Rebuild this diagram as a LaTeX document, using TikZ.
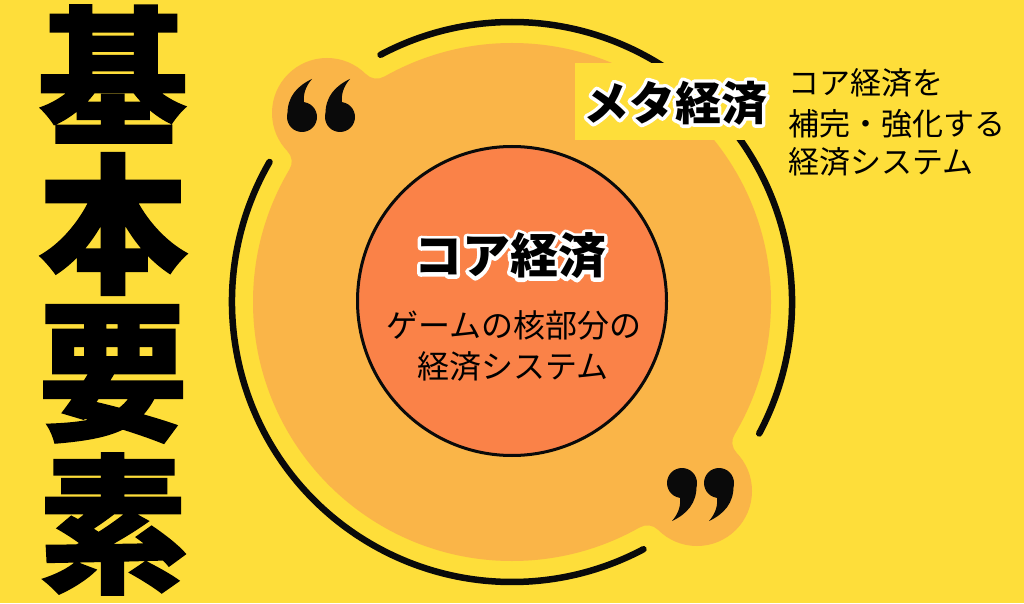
\documentclass[tikz,border=0pt]{standalone}
\usepackage{fontspec}
\newfontfamily\jp{Noto Sans CJK JP}
\newfontfamily\jpheavy[FakeBold=1]{Noto Sans CJK JP}
\definecolor{bgyellow}{RGB}{254,222,58}
\definecolor{discorange}{RGB}{250,181,72}
\definecolor{coral}{RGB}{250,130,72}
\definecolor{inkblack}{RGB}{10,10,10}
% white outlined text: a stroked white copy behind the black text
\newcommand\halo[2][7]{{\setbox0=\hbox{#2}%
  \rlap{\color{white}\special{pdf:code q 1 1 1 RG #1 w 1 j 2 Tr}\copy0\special{pdf:code Q}}%
  \box0}}
\tikzset{
  ringline/.style={draw=inkblack, line width=6.5pt, line cap=round},
  bigchar/.style={font=\jpheavy\bfseries\fontsize{150}{150}\selectfont, inner sep=0, text=black},
  titletext/.style={font=\jp\bfseries\fontsize{48}{48}\selectfont, inner sep=0, text=black},
  bodytext/.style={font=\jp\fontsize{32}{32}\selectfont, inner sep=0, text=black},
  sidetext/.style={font=\jp\fontsize{31}{31}\selectfont, inner sep=0, text=black, anchor=west},
  comma/.pic={
    \fill[inkblack] (0,0) circle (15);
    \fill[inkblack] (14.5,-2) .. controls (15,-20) and (5,-31) .. (-10,-38)
      .. controls (-3,-30) and (-1,-22) .. (-2,-13) -- (0,0) -- cycle;
  }
}
\begin{document}
\begin{tikzpicture}[x=1pt,y=1pt]
\useasboundingbox (0,0) rectangle (1024,603);
\fill[bgyellow] (0,0) rectangle (1024,603);
\coordinate (C) at (512,301);
\coordinate (B1) at (327,490);
\coordinate (B2) at (697,112);
% light orange disc with two bulges
\fill[discorange] (C) circle (259) (B1) circle (55) (B2) circle (55);
% concave fillets where the bulges meet the disc
\foreach \r in {0,180}{
  \begin{scope}[rotate around={\r:(C)}]
    \fill[discorange] (C) -- (384.1,526.3) arc[start angle=-60.4, end angle=-135, radius=15] -- (B1) -- cycle;
    \fill[discorange] (C) -- (289.6,433.6) arc[start angle=-30.8, end angle=43.9, radius=15] -- (B1) -- cycle;
  \end{scope}
}
% outer ring (two arcs)
\draw[ringline] ([shift={(150:280)}]C) arc[start angle=150, end angle=298, radius=280];
\draw[ringline] ([shift={(-28:280)}]C) arc[start angle=-28, end angle=118, radius=280];
% quote marks
\pic[rotate=180] at (302,486) {comma};
\pic[rotate=180] at (340,486) {comma};
\pic at (682,120) {comma};
\pic at (719,120) {comma};
% core circle
\node[circle, fill=coral, draw=inkblack, line width=3pt, minimum size=309pt, inner sep=0] (core) at (512,302) {};
\node[titletext] (coretitle) at (510,347) {\halo{コア経済}};
\node[bodytext] (corel1) at (514,278) {ゲームの核部分の};
\node[bodytext] (corel2) at (513,237) {経済システム};
% meta label
\fill[bgyellow] (575,463) rectangle (772,540);
\node[titletext, font=\jp\bfseries\fontsize{46}{46}\selectfont] (meta) at (675,500) {\halo{メタ経済}};
\node[sidetext] (side1) at (788,520) {コア経済を};
\node[sidetext] (side2) at (788,479) {補完・強化する};
\node[sidetext] (side3) at (788,441) {経済システム};
% vertical title
\node[bigchar] (k1) at (113,529) {基};
\node[bigchar] (k2) at (113,379) {本};
\node[bigchar] (k3) at (113,229) {要};
\node[bigchar] (k4) at (113,79) {素};
\end{tikzpicture}
\end{document}
